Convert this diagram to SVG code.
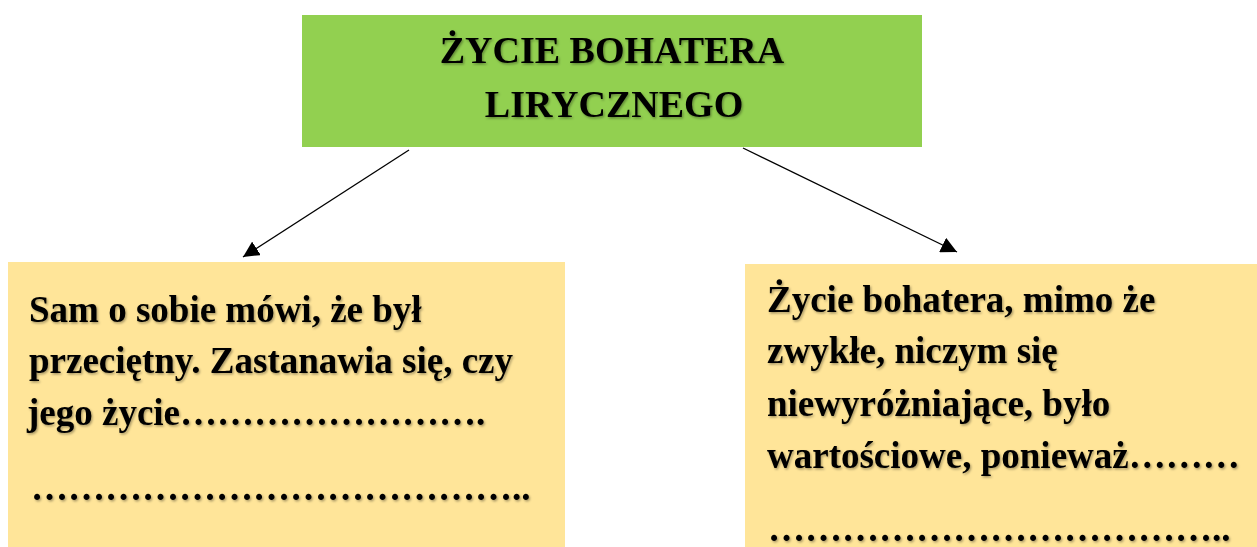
<svg xmlns="http://www.w3.org/2000/svg" width="1257" height="547" viewBox="0 0 1257 547">
<style>
.t{font-family:"Liberation Serif","Times New Roman",serif;font-weight:bold;font-size:37px;fill:#000;filter:url(#sh)}
.h{font-size:38px}
.c{text-anchor:middle}
.ln{stroke:#000;stroke-width:1.3;fill:none;marker-end:url(#ah)}
</style>
<defs>
<filter id="sh" x="-5%" y="-20%" width="110%" height="140%">
<feDropShadow dx="1.2" dy="1.5" stdDeviation="1" flood-color="#000" flood-opacity="0.35"/>
</filter>
<marker id="ah" viewBox="0 0 10 10" refX="10" refY="5" markerWidth="16" markerHeight="16" markerUnits="userSpaceOnUse" orient="auto">
<path d="M0,0 L10,5 L0,10 Z" fill="#000"/>
</marker>
</defs>
<rect width="1257" height="547" fill="#fff"/>
<g id="connectors">
<line class="ln" x1="409" y1="150" x2="243" y2="257"/>
<line class="ln" x1="743" y1="148" x2="957" y2="252"/>
</g>
<g id="top">
<rect x="302" y="15" width="620" height="132" fill="#92D050"/>
<text class="t h c" x="612" y="63">ŻYCIE BOHATERA</text>
<text class="t h c" x="614" y="117">LIRYCZNEGO</text>
</g>
<g id="left">
<rect x="8" y="262" width="557" height="285" fill="#FFE599"/>
<text class="t" x="29" y="322">Sam o sobie mówi, że był</text>
<text class="t" x="29" y="373">przeciętny. Zastanawia się, czy</text>
<text class="t" x="27" y="425">jego życie&#8230;&#8230;&#8230;&#8230;&#8230;&#8230;&#8230;&#8230;.</text>
<text class="t" x="31" y="500">&#8230;&#8230;&#8230;&#8230;&#8230;&#8230;&#8230;&#8230;&#8230;&#8230;&#8230;&#8230;&#8230;..</text>
</g>
<g id="right">
<rect x="745" y="264" width="512" height="283" fill="#FFE599"/>
<text class="t" x="767" y="312">Życie bohatera, mimo że</text>
<text class="t" x="767" y="363">zwykłe, niczym się</text>
<text class="t" x="767" y="416">niewyróżniające, było</text>
<text class="t" x="767" y="468">wartościowe, ponieważ&#8230;&#8230;&#8230;</text>
<text class="t" x="768" y="541">&#8230;&#8230;&#8230;&#8230;&#8230;&#8230;&#8230;&#8230;&#8230;&#8230;&#8230;&#8230;..</text>
</g>
</svg>
